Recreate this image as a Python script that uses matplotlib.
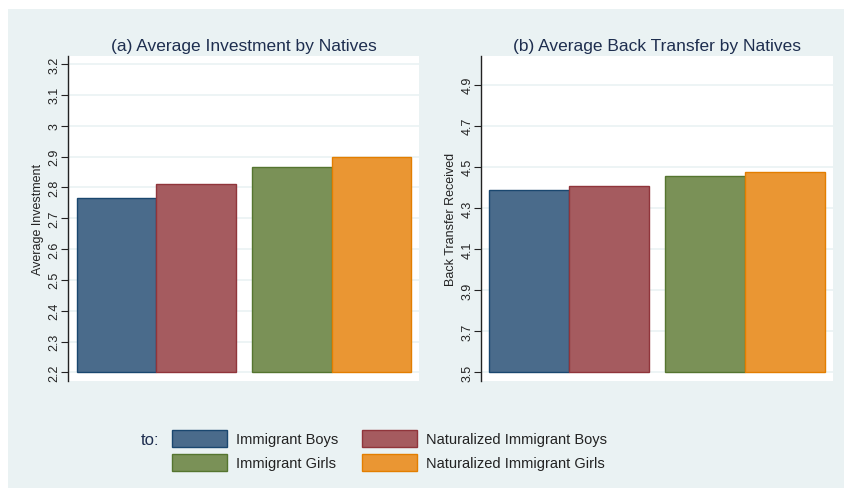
import matplotlib
matplotlib.use("Agg")
import matplotlib.pyplot as plt
from matplotlib.patches import Rectangle
import numpy as np

plt.rcParams['font.family'] = ['Liberation Sans', 'DejaVu Sans']

# group means by recipient type
groups = ["Immigrant Boys", "Naturalized Immigrant Boys",
          "Immigrant Girls", "Naturalized Immigrant Girls"]
investment = [2.767, 2.812, 2.866, 2.898]
back_transfer = [4.386, 4.407, 4.456, 4.475]

fills = ["#4a6b8b", "#a55b5f", "#7a9157", "#ea9633"]
edges = ["#1a476f", "#90353b", "#55752f", "#e37e00"]

bg = "#eaf2f3"
title_col = "#1e2e4f"
W, H = 844, 489

fig = plt.figure(figsize=(W / 100, H / 100), dpi=100)
fig.patch.set_facecolor("white")
fig.add_artist(Rectangle((8 / W, -0.05), 1.1, 1.05 - 10 / H, transform=fig.transFigure,
                         facecolor=bg, edgecolor="none", zorder=-10))

xpos = [0.5, 1.5, 2.7, 3.7]


def panel(rect, vals, ticks, ylim, title, ylabel):
    ax = fig.add_axes(rect)
    ax.set_facecolor("white")
    base = ticks[0]
    for x, v, fc, ec in zip(xpos, vals, fills, edges):
        ax.bar(x, v - base, width=1.0, bottom=base, color=fc,
               edgecolor=ec, linewidth=1.0, zorder=3)
    ax.set_xlim(-0.105, 4.3)
    ax.set_ylim(ylim)
    ax.set_yticks(ticks)
    ax.set_yticklabels([f"{t:g}" for t in ticks], rotation=90, va="center",
                       fontsize=9, color="#222222")
    ax.set_xticks([])
    ax.grid(axis="y", color=bg, linewidth=1.2, zorder=0)
    for s in ["top", "right", "bottom"]:
        ax.spines[s].set_visible(False)
    ax.spines["left"].set_color("#222222")
    ax.spines["left"].set_linewidth(1.0)
    ax.tick_params(axis="y", direction="out", length=5, width=0.8, pad=0.5,
                   color="#222222")
    ax.set_title(title, fontsize=12.5, color=title_col, pad=4)
    ax.set_ylabel(ylabel, fontsize=9, color="#222222", labelpad=3)
    return ax


bottom = 1 - 381.7 / H
height = 325 / H
panel([68.3 / W, bottom, 351 / W, height], investment,
      np.round(np.arange(2.2, 3.21, 0.1), 1), (2.173, 3.227),
      "(a) Average Investment by Natives", "Average Investment")
panel([481 / W, bottom, 351.7 / W, height], back_transfer,
      np.round(np.arange(3.5, 4.91, 0.2), 1), (3.459, 5.041),
      "(b) Average Back Transfer by Natives", "Back Transfer Received")

# legend drawn below both panels
fig.text(150 / W, 1 - 441 / H, "to:", fontsize=12, color=title_col,
         ha="center", va="center")
key_x = [172, 362, 172, 362]
key_y = [431, 431, 455, 455]
for lab, fc, ec, kx, ky in zip(groups, fills, edges, key_x, key_y):
    fig.add_artist(Rectangle((kx / W, 1 - (ky + 17) / H), 55 / W, 17 / H,
                             transform=fig.transFigure, facecolor=fc,
                             edgecolor=ec, linewidth=1.0))
    fig.text((kx + 64) / W, 1 - (ky + 9) / H, lab, fontsize=10.5,
             color="#222222", ha="left", va="center")

fig.savefig("out.png", dpi=100, facecolor=fig.get_facecolor())
